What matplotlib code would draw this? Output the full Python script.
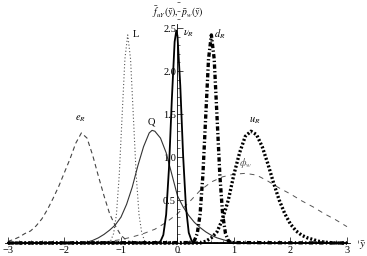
import matplotlib
matplotlib.use("Agg")
import matplotlib.pyplot as plt
from matplotlib.ticker import MultipleLocator

plt.rcParams['font.family'] = ['Liberation Serif', 'DejaVu Serif']
plt.rcParams['mathtext.fontset'] = 'stix'

# curves (x, density)
eR_x = [-3.0, -2.9, -2.8, -2.7, -2.6, -2.5, -2.4, -2.3, -2.2, -2.1, -2.0, -1.9, -1.8, -1.7,
        -1.6, -1.5, -1.4, -1.3, -1.2, -1.1, -1.0, -0.9, -0.8, -0.6, 3.0]
eR_y = [0.02, 0.04, 0.07, 0.11, 0.14, 0.20, 0.28, 0.39, 0.52, 0.66, 0.82, 0.98, 1.16, 1.28,
        1.22, 1.02, 0.78, 0.55, 0.34, 0.20, 0.09, 0.03, 0.01, 0.0, 0.0]

L_x = [-3.0, -1.23, -1.18, -1.13, -1.08, -1.03, -0.98, -0.93, -0.88, -0.83, -0.78, -0.73,
       -0.68, -0.63, -0.58, -0.53, 3.0]
L_y = [0.0, 0.005, 0.027, 0.11, 0.33, 0.79, 1.47, 2.14, 2.42, 2.14, 1.47, 0.79,
       0.33, 0.11, 0.027, 0.005, 0.0]

Q_x = [-3.0, -1.8, -1.6, -1.5, -1.4, -1.3, -1.2, -1.1, -1.0, -0.9, -0.8, -0.7, -0.6, -0.5,
       -0.45, -0.4, -0.3, -0.2, -0.1, 0.0, 0.1, 0.2, 0.3, 0.4, 0.5, 0.6, 0.7, 0.8, 0.9,
       1.0, 1.2, 3.0]
Q_y = [0.0, 0.0, 0.01, 0.03, 0.06, 0.10, 0.15, 0.21, 0.30, 0.45, 0.65, 0.90, 1.12, 1.28,
       1.31, 1.30, 1.22, 1.05, 0.80, 0.55, 0.42, 0.32, 0.24, 0.18, 0.13, 0.09, 0.06, 0.04, 0.02,
       0.01, 0.0, 0.0]

nuR_x = [-3.0, -0.35, -0.3, -0.25, -0.2, -0.15, -0.1, -0.05, -0.02, 0.0, 0.05, 0.1, 0.15,
         0.2, 0.25, 0.3, 0.35, 3.0]
nuR_y = [0.0, 0.003, 0.02, 0.094, 0.33, 0.87, 1.66, 2.34, 2.47, 2.41, 1.83, 1.02, 0.42,
         0.12, 0.027, 0.005, 0.0, 0.0]

dR_x = [-3.0, 0.25, 0.3, 0.35, 0.4, 0.45, 0.5, 0.55, 0.6, 0.65, 0.7, 0.75, 0.8, 0.85,
        0.9, 0.95, 3.0]
dR_y = [0.0, 0.005, 0.027, 0.11, 0.33, 0.79, 1.47, 2.14, 2.42, 2.14, 1.47, 0.79, 0.33, 0.11,
        0.027, 0.005, 0.0]

uR_x = [-3.0, 0.4, 0.5, 0.6, 0.7, 0.8, 0.9, 1.0, 1.1, 1.2, 1.3, 1.4, 1.5, 1.6, 1.7, 1.8,
        1.9, 2.0, 2.1, 2.2, 2.3, 2.4, 2.5, 2.6, 2.8, 3.0]
uR_y = [0.0, 0.0, 0.02, 0.06, 0.13, 0.28, 0.50, 0.80, 1.05, 1.24, 1.30, 1.26, 1.12, 0.92,
        0.70, 0.50, 0.34, 0.22, 0.14, 0.09, 0.06, 0.04, 0.02, 0.01, 0.0, 0.0]

phiw_x = [-3.0, -2.0, -1.5, -1.2, -1.0, -0.8, -0.6, -0.4, -0.2, 0.0, 0.2, 0.4, 0.6, 0.8,
          1.0, 1.2, 1.4, 1.6, 1.8, 2.0, 2.2, 2.4, 2.6, 2.8, 3.0]
phiw_y = [0.0, 0.0, 0.005, 0.02, 0.04, 0.07, 0.11, 0.16, 0.24, 0.34, 0.47, 0.61, 0.71, 0.77,
          0.80, 0.81, 0.79, 0.72, 0.64, 0.57, 0.49, 0.42, 0.34, 0.27, 0.19]

xticks = [-3, -2, -1, 0, 1, 2, 3]
xtick_labels = ['\u22123', '\u22122', '\u22121', '0', '1', '2', '3']
yticks = [0.5, 1.0, 1.5, 2.0, 2.5]
ytick_labels = ['0.5', '1.0', '1.5', '2.0', '2.5']

fig = plt.figure(figsize=(3.67, 2.56), dpi=100)
ax = fig.add_axes([0, 0, 1, 1])
ax.patch.set_alpha(0)

ax.plot(phiw_x, phiw_y, color='#555555', lw=0.7, ls=(0, (5, 5)))
ax.plot(eR_x, eR_y, color='#444444', lw=0.8, ls=(0, (4, 3)))
ax.plot(L_x, L_y, color='#555555', lw=0.8, ls=(0, (1, 2)))
ax.plot(Q_x, Q_y, color='#333333', lw=0.8)
ax.plot(uR_x, uR_y, color='black', lw=2.4, ls=(0, (0.6, 0.6)))
ax.plot(dR_x, dR_y, color='black', lw=2.4, ls=(0, (1.3, 0.7, 0.4, 0.7)))
ax.plot(nuR_x, nuR_y, color='black', lw=1.3)

ax.set_xlim(-3.14, 3.354)
ax.set_ylim(-0.151, 2.826)

for s in ['top', 'right']:
    ax.spines[s].set_visible(False)
ax.spines['left'].set_position(('data', 0))
ax.spines['bottom'].set_position(('data', 0))
ax.spines['left'].set_bounds(0, 2.55)
ax.spines['bottom'].set_bounds(-3.05, 3.05)
ax.spines['left'].set_linewidth(0.6)
ax.spines['bottom'].set_linewidth(0.6)

ax.set_xticks(xticks)
ax.set_xticklabels(xtick_labels)
ax.set_yticks(yticks)
ax.set_yticklabels(ytick_labels)
ax.xaxis.set_minor_locator(MultipleLocator(0.2))
ax.yaxis.set_minor_locator(MultipleLocator(0.1))
ax.tick_params(which='major', direction='in', length=4, width=0.5, labelsize=7.5, pad=2)
ax.tick_params(which='minor', direction='in', length=2, width=0.4)
ax.tick_params(axis='y', pad=1)

tk = dict(fontsize=7.5)
ax.text(-1.71, 1.38, r'$e_R$', ha='center', va='bottom', **tk)
ax.text(-0.79, 2.42, 'L', ha='left', va='center', **tk)
ax.text(-0.47, 1.36, 'Q', ha='center', va='bottom', **tk)
ax.text(0.09, 2.44, r'$\nu_R$', ha='left', va='center', **tk)
ax.text(0.64, 2.43, r'$d_R$', ha='left', va='center', **tk)
ax.text(1.36, 1.36, r'$u_R$', ha='center', va='bottom', **tk)
ax.text(1.21, 0.93, r'$\phi_w$', ha='center', va='center', color='#555555', **tk)
ax.text(0.0, 2.69, r'$\bar{f}_{uY}(\bar{y}),\ \bar{p}_w(\bar{y})$', ha='center', va='center', fontsize=7)
ax.text(3.27, -0.03, r'$\bar{y}$', ha='center', va='center', fontsize=8)

fig.savefig('out.png', dpi=100)
